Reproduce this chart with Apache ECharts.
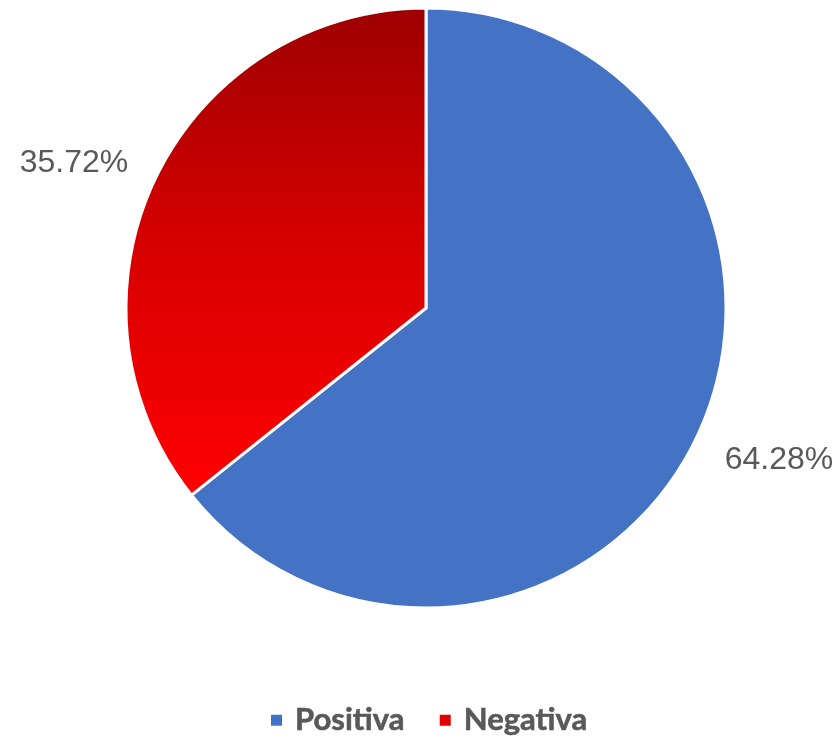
<!DOCTYPE html>
<html>
<head>
<meta charset="utf-8">
<style>
  html, body { margin: 0; padding: 0; background: #ffffff; }
  #chart { width: 839px; height: 741px; }
</style>
<script src="https://cdn.jsdelivr.net/npm/echarts@6/dist/echarts.min.js"></script>
</head>
<body>
<div id="chart"></div>
<script>
// Share of sentiment (percent)
const categories = ['Positiva', 'Negativa'];
const shares = [64.28, 35.72];

// Label anchor points (centre of each percentage text)
const labelPositions = [[779, 460], [74, 163]];

const sliceColors = [
  '#4472C4',
  new echarts.graphic.LinearGradient(0, 0, 0, 1, [
    { offset: 0, color: '#9E0000' },
    { offset: 0.5, color: '#D80000' },
    { offset: 1, color: '#FF0000' }
  ])
];
const legendColors = ['#4472C4', '#E00000'];

const chart = echarts.init(document.getElementById('chart'), null, { renderer: 'canvas' });

chart.setOption({
  animation: false,
  legend: {
    bottom: 0,
    left: 264,
    itemWidth: 13,
    itemHeight: 13,
    itemGap: 33,
    icon: 'rect',
    data: categories.map((name, i) => ({
      name,
      itemStyle: { color: legendColors[i] }
    })),
    textStyle: {
      fontFamily: 'Lato',
      fontWeight: 'bold',
      fontSize: 31,
      color: '#595959',
      padding: [0, 0, 0, 7],
      textBorderColor: '#595959',
      textBorderWidth: 0.6
    }
  },
  series: [{
    type: 'pie',
    center: [426, 308],
    radius: [0, 300],
    startAngle: 90,
    clockwise: true,
    data: categories.map((name, i) => ({
      name,
      value: shares[i],
      itemStyle: { color: sliceColors[i] }
    })),
    itemStyle: {
      borderColor: '#ffffff',
      borderWidth: 3
    },
    emphasis: { disabled: true },
    label: {
      show: true,
      formatter: p => p.value.toFixed(2) + '%',
      fontFamily: 'Liberation Sans, Arial, sans-serif',
      fontSize: 32,
      color: '#595959',
      overflow: 'none',
      width: 200
    },
    labelLine: { show: false },
    labelLayout: p => ({
      x: labelPositions[p.dataIndex][0],
      y: labelPositions[p.dataIndex][1],
      align: 'center',
      verticalAlign: 'middle'
    })
  }]
});
</script>
</body>
</html>
